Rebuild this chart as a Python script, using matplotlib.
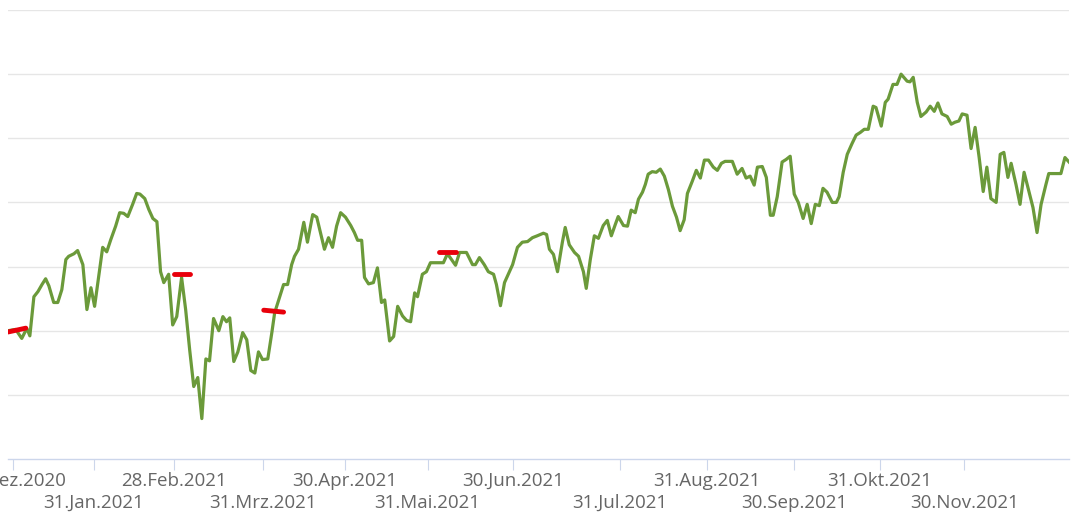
import matplotlib.pyplot as plt

# x = Handelstag-Index ab 31.12.2020, y = Wertentwicklung (Start = 100)
day_idx = [
    -1.2, 0.7, 2.2, 3.0, 3.5, 4.2, 5.2, 6.2, 7.2, 8.1, 8.9, 10.1, 11.1, 12.1, 13.1, 13.8,
    15.1, 16.0, 17.3, 18.3, 19.3, 20.2, 21.2, 22.2, 23.2, 24.2, 25.4, 26.4, 27.4, 28.4,
    29.6, 30.6, 31.4, 32.6, 33.6, 34.6, 35.6, 36.5, 37.3, 38.5, 39.5, 40.5, 41.7, 42.7,
    43.7, 44.7, 45.7, 46.7, 47.7, 48.6, 49.6, 50.9, 51.9, 52.8, 53.6, 54.6, 55.6, 56.8,
    57.8, 58.8, 59.8, 60.7, 61.7, 63.0, 64.0, 64.7, 66.9, 67.9, 68.9, 69.6, 70.6, 71.9,
    72.8, 74.1, 75.1, 76.0, 77.0, 78.0, 79.0, 80.0, 81.0, 82.2, 83.5, 84.4, 85.2, 86.2,
    86.9, 87.9, 89.1, 90.1, 91.1, 91.9, 93.1, 94.1, 95.1, 96.3, 97.3, 98.3, 99.3, 100.0,
    101.2, 102.2, 103.2, 104.9, 106.4, 107.4, 109.4, 110.4, 112.1, 113.6, 114.3, 115.3,
    116.5, 117.5, 118.8, 119.5, 120.5, 121.5, 122.5, 123.5, 124.7, 125.9, 127.2, 128.4,
    129.6, 131.1, 131.9, 132.6, 133.6, 134.6, 135.8, 136.5, 137.5, 138.8, 139.8, 141.0,
    141.7, 142.7, 143.7, 144.7, 145.9, 146.9, 147.9, 148.9, 149.6, 150.9, 151.9, 152.8,
    153.8, 154.6, 155.6, 156.3, 157.0, 158.0, 159.0, 160.0, 161.0, 162.0, 163.0, 164.0,
    164.9, 165.9, 166.7, 167.9, 168.9, 169.9, 170.9, 171.9, 173.1, 174.1, 175.1, 176.0,
    177.8, 179.0, 180.2, 181.2, 182.2, 183.2, 184.0, 185.2, 186.2, 187.2, 187.9, 188.9,
    190.1, 191.1, 192.1, 193.1, 194.1, 195.3, 196.3, 197.3, 198.3, 199.3, 200.2, 201.2,
    202.5, 203.5, 204.2, 205.2, 206.2, 207.4, 208.4, 209.4, 210.4, 211.4, 212.6, 213.3,
    214.6, 215.6, 216.3, 217.5, 218.5, 219.5, 221.0, 221.7, 222.5, 223.5, 224.4, 225.7,
    226.7, 227.7, 228.6, 229.6, 230.9, 231.9, 232.8, 233.8, 234.6, 235.8, 236.8, 237.8,
    238.8, 239.8, 240.7, 241.7, 243.0, 244.0, 244.9, 245.9, 246.7, 247.9, 248.9, 249.9,
    251.1, 252.1, 253.1, 254.1, 255.3, 256.0, 257.3, 259.0, 260.0, 261.0,
]
values = [
    100.0, 100.2, 98.8, 99.8, 100.3, 99.2, 105.3, 106.1, 107.2, 108.1, 107.0, 104.4, 104.4,
    106.4, 111.1, 111.6, 112.0, 112.5, 110.3, 103.3, 106.7, 103.8, 108.4, 113.0, 112.3,
    114.2, 116.3, 118.4, 118.3, 117.8, 119.7, 121.4, 121.3, 120.6, 118.9, 117.5, 117.0,
    109.2, 107.5, 108.8, 100.9, 102.2, 108.3, 103.3, 97.0, 91.3, 92.7, 86.3, 95.6, 95.3,
    101.9, 100.0, 102.2, 101.4, 102.0, 95.2, 96.7, 99.7, 98.6, 93.8, 93.4, 96.7, 95.5,
    95.6, 99.7, 102.8, 107.2, 107.2, 110.3, 111.6, 112.7, 116.9, 113.8, 118.1, 117.7,
    115.3, 112.7, 114.5, 113.0, 116.3, 118.4, 117.7, 116.4, 115.3, 114.1, 114.1, 108.3,
    107.3, 107.5, 109.8, 104.4, 104.8, 98.4, 99.1, 103.8, 102.3, 101.6, 101.4, 105.9,
    105.3, 108.8, 109.2, 110.6, 110.6, 110.6, 112.0, 110.2, 112.2, 112.2, 110.3, 110.3,
    111.4, 110.3, 109.2, 108.8, 107.2, 103.9, 107.5, 108.9, 110.3, 113.0, 113.8, 113.9,
    114.5, 114.8, 115.2, 115.0, 112.7, 111.9, 109.2, 113.8, 116.1, 113.4, 112.2, 111.6,
    109.2, 106.6, 111.1, 114.8, 114.4, 116.4, 117.2, 114.8, 116.6, 117.8, 116.4, 116.3,
    118.8, 118.4, 120.5, 121.6, 122.8, 124.4, 124.8, 124.7, 125.2, 124.1, 122.0, 119.4,
    117.7, 115.6, 117.3, 121.4, 123.3, 125.0, 123.8, 126.6, 126.6, 125.5, 125.0, 126.1,
    126.4, 126.4, 124.4, 125.3, 123.8, 124.1, 122.7, 125.5, 125.6, 123.9, 118.0, 118.0,
    120.9, 126.3, 126.7, 127.2, 121.3, 120.0, 117.5, 119.7, 116.7, 119.7, 119.5, 122.2,
    121.6, 120.0, 120.0, 120.9, 124.7, 127.5, 129.2, 130.5, 130.9, 131.4, 131.4, 135.0,
    134.8, 131.9, 135.6, 136.1, 138.4, 138.4, 140.0, 138.9, 138.8, 139.5, 135.6, 133.4,
    134.1, 135.0, 134.2, 135.5, 133.8, 133.4, 132.2, 132.5, 132.7, 133.8, 133.6, 128.4,
    131.7, 127.0, 121.7, 125.5, 120.6, 120.0, 127.5, 127.8, 123.9, 126.1, 122.8, 119.7,
    124.7, 121.7, 119.2, 115.3, 119.7, 122.8, 124.5, 124.5, 124.5, 127.0, 126.3,
]

# rote Markierungen (Start-/End-Index, Niveau links/rechts)
mark_start = [-1.2, 39.8, 62.0, 105.4]
mark_end = [3.2, 43.7, 66.9, 109.4]
mark_left = [99.8, 108.8, 103.2, 112.2]
mark_right = [100.4, 108.8, 102.9, 112.2]

tick_pos = [0, 20, 39.7, 61.7, 82, 102.5, 123.7, 150.1, 171.6, 193.1, 214.3, 235.1]
tick_labels = ['31.Dez.2020', '31.Jan.2021', '28.Feb.2021', '31.Mrz.2021', '30.Apr.2021',
               '31.Mai.2021', '30.Jun.2021', '31.Jul.2021', '31.Aug.2021', '30.Sep.2021',
               '31.Okt.2021', '30.Nov.2021']
grid_levels = [90, 100, 110, 120, 130, 140, 150]

plt.rcParams['font.family'] = ['Open Sans', 'DejaVu Sans']

fig = plt.figure(figsize=(10.74, 5.19), dpi=100)
ax = fig.add_axes([8 / 1074, 60 / 519, 1061 / 1074, 449 / 519])

ax.plot(day_idx, values, color='#6b9a3a', linewidth=2.3, solid_joinstyle='round', zorder=3)

for x0, x1, y0, y1 in zip(mark_start, mark_end, mark_left, mark_right):
    ax.plot([x0, x1], [y0, y1], color='#e8000b', linewidth=3.5,
            solid_capstyle='round', zorder=4)

ax.set_xlim(-1.2, 261)
ax.set_ylim(80, 150)

ax.set_yticks(grid_levels)
ax.yaxis.grid(True, color='#e6e6e6', linewidth=1.0)
ax.tick_params(axis='y', left=False, labelleft=False)
ax.set_axisbelow(True)

ax.set_xticks(tick_pos, tick_labels)
ax.tick_params(axis='x', length=8, width=0.8, color='#ccd6eb', labelcolor='#666666',
               labelsize=13.5, pad=1.5)
for i, t in enumerate(ax.xaxis.get_major_ticks()):
    if i % 2 == 1:
        t.set_pad(17.0)

for side in ['left', 'right', 'top']:
    ax.spines[side].set_visible(False)
ax.spines['bottom'].set_color('#ccd6eb')
ax.spines['bottom'].set_linewidth(1.0)

fig.savefig('out.png', dpi=100)
